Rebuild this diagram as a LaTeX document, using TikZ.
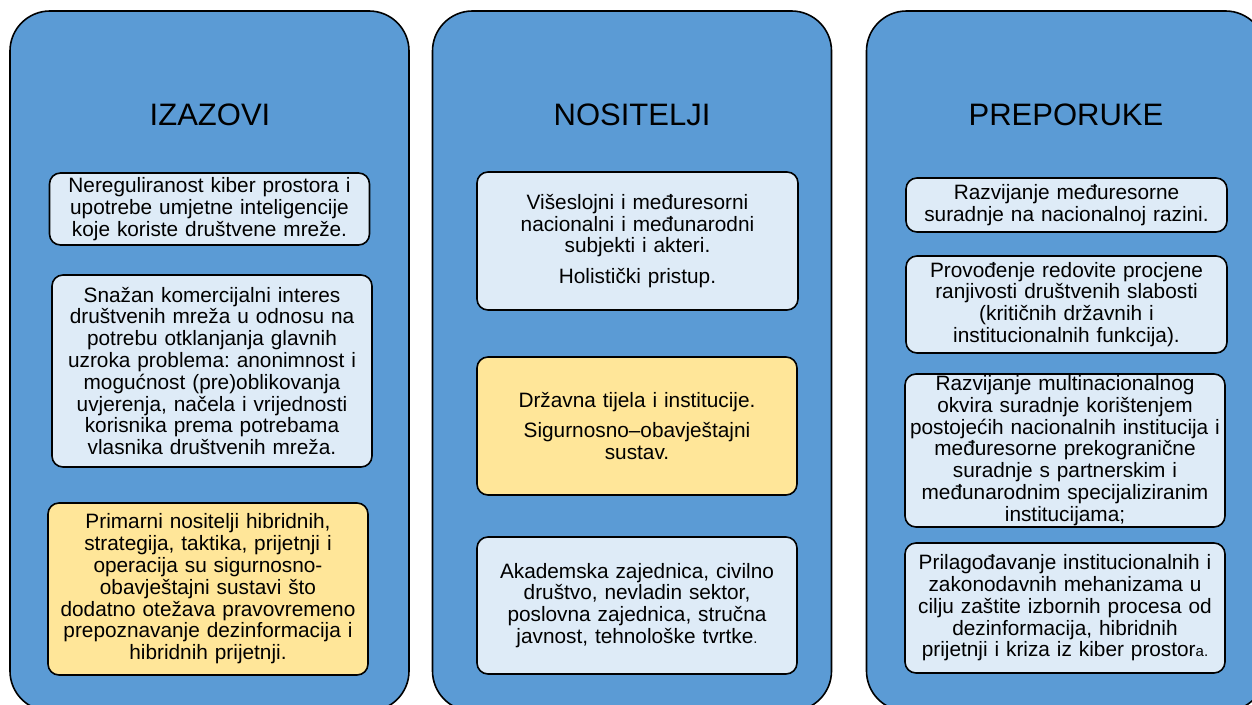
\documentclass[tikz,border=0pt]{standalone}
\usepackage{fontspec}
\setmainfont{Liberation Sans}
\frenchspacing
\definecolor{colblue}{RGB}{91,155,213}
\definecolor{collight}{RGB}{222,235,247}
\definecolor{colyellow}{RGB}{255,230,153}
\tikzset{
  column/.style={draw=black, line width=1.6pt, fill=colblue, rounded corners=40pt,
    minimum width=399pt, minimum height=700pt, inner sep=0pt},
  coltitle/.style={anchor=base, font=\fontsize{31}{36}\selectfont, inner sep=0pt},
  itembox/.style={draw=black, line width=1.6pt, rounded corners=11pt, align=center,
    text width=318pt, inner sep=1pt, font=\fontsize{20.8}{21.8}\selectfont},
  lightbox/.style={itembox, fill=collight},
  yellowbox/.style={itembox, fill=colyellow}
}
\begin{document}
\begin{tikzpicture}[x=1pt,y=-1pt]
\useasboundingbox (0,0) rectangle (1252,704);
\begin{scope}
\clip (0,0) rectangle (1252,704);
\node[column] (cL) at (209.5,361) {};
\node[column] (cM) at (632,361) {};
\node[column] (cR) at (1066,361) {};
\end{scope}

\node[coltitle] (tL) at (210,125) {IZAZOVI};
\node[coltitle] (tM) at (632,125) {NOSITELJI};
\node[coltitle] (tR) at (1066,125) {PREPORUKE};

% left column
\node[lightbox, minimum width=319pt, minimum height=72pt] (L1) at (209.5,209)
  {Nereguliranost kiber prostora i\\upotrebe umjetne inteligencije\\koje koriste društvene mreže.};
\node[lightbox, minimum width=320pt, minimum height=192pt] (L2) at (212,371)
  {Snažan komercijalni interes\\društvenih mreža u odnosu na\\potrebu otklanjanja glavnih\\uzroka problema: anonimnost i\\mogućnost (pre)oblikovanja\\uvjerenja, načela i vrijednosti\\korisnika prema potrebama\\vlasnika društvenih mreža.};
\node[yellowbox, minimum width=320pt, minimum height=172pt] (L3) at (208,589)
  {Primarni nositelji hibridnih,\\strategija, taktika, prijetnji i\\operacija su sigurnosno-\\obavještajni sustavi što\\dodatno otežava pravovremeno\\prepoznavanje dezinformacija i\\hibridnih prijetnji.};

% middle column
\node[lightbox, minimum width=321pt, minimum height=138pt] (M1) at (637.5,241)
  {Višeslojni i međuresorni\\nacionalni i međunarodni\\subjekti i akteri.\\[9pt]Holistički pristup.};
\node[yellowbox, minimum width=320pt, minimum height=138pt] (M2) at (637,426)
  {Državna tijela i institucije.\\[8pt]Sigurnosno–obavještajni\\sustav.};
\node[lightbox, minimum width=320pt, minimum height=137pt] (M3) at (637,605.5)
  {Akademska zajednica, civilno\\društvo, nevladin sektor,\\poslovna zajednica, stručna\\javnost, tehnološke tvrtke{\fontsize{15}{16}\selectfont .}};

% right column
\node[lightbox, minimum width=321pt, minimum height=54pt] (R1) at (1066.5,205)
  {Razvijanje međuresorne\\suradnje na nacionalnoj razini.};
\node[lightbox, minimum width=321pt, minimum height=97pt] (R2) at (1066.5,304.5)
  {Provođenje redovite procjene\\ranjivosti društvenih slabosti\\(kritičnih državnih i\\institucionalnih funkcija).};
\node[lightbox, minimum width=320pt, minimum height=153pt] (R3) at (1065,450.5)
  {Razvijanje multinacionalnog\\okvira suradnje korištenjem\\postojećih nacionalnih institucija i\\međuresorne prekogranične\\suradnje s partnerskim i\\međunarodnim specijaliziranim\\institucijama;};
\node[lightbox, minimum width=320pt, minimum height=130pt] (R4) at (1065,608)
  {Prilagođavanje institucionalnih i\\zakonodavnih mehanizama u\\cilju zaštite izbornih procesa od\\dezinformacija, hibridnih\\prijetnji i kriza iz kiber prostor{\fontsize{15}{16}\selectfont a.}};
\end{tikzpicture}
\end{document}
